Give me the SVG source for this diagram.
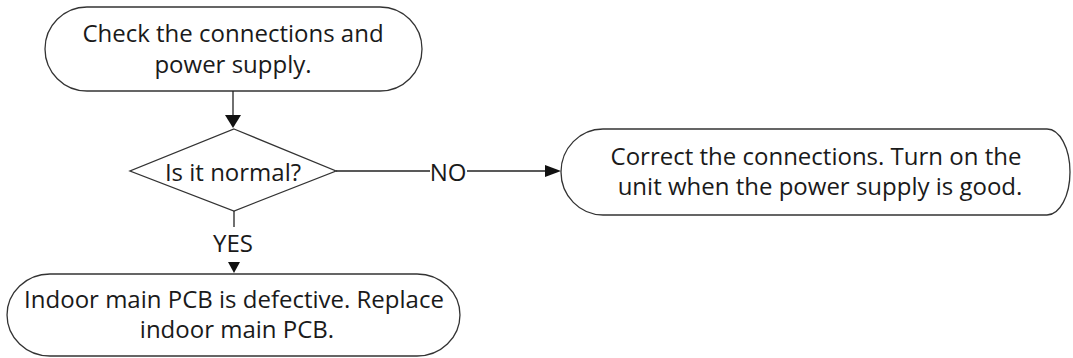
<svg xmlns="http://www.w3.org/2000/svg" width="1073" height="358" viewBox="0 0 1073 358">
<style>
.shape{fill:#fff;stroke:#333;stroke-width:1.3}
.line{fill:none;stroke:#222;stroke-width:1.3}
.head{fill:#111;stroke:none}
text{font-family:"Open Sans","Liberation Sans",sans-serif;font-size:24px;fill:#1a1a1a;text-anchor:middle}
</style>
<rect width="1073" height="358" fill="#fff"/>
<g id="node-check">
<path class="shape" d="M87,7 H380 A42,42 0 0 1 380,91 H87 A42,42 0 0 1 87,7 Z"/>
<text x="233" y="42">Check the connections and</text>
<text x="233" y="73">power supply.</text>
</g>
<g id="node-decision">
<polygon class="shape" points="234,129 336,171 234,211 130,171"/>
<text x="233" y="181">Is it normal?</text>
</g>
<g id="node-correct">
<path class="shape" d="M603,129 H1047 A23,43 0 0 1 1047,215 H603 A42,43 0 0 1 603,129 Z"/>
<text x="816" y="165">Correct the connections. Turn on the</text>
<text x="820" y="195">unit when the power supply is good.</text>
</g>
<g id="node-replace">
<path class="shape" d="M50,274 H417 A43,41 0 0 1 417,356 H50 A43,41 0 0 1 50,274 Z"/>
<text x="234" y="308">Indoor main PCB is defective. Replace</text>
<text x="237" y="338">indoor main PCB.</text>
</g>
<g id="connectors">
<line class="line" x1="233" y1="91" x2="233" y2="116"/>
<polygon class="head" points="225,115 241,115 233,128"/>
<line class="line" x1="336" y1="171" x2="430" y2="171"/>
<line class="line" x1="467" y1="171" x2="547" y2="171"/>
<polygon class="head" points="545,165 561,171 545,177"/>
<text x="448" y="181">NO</text>
<line class="line" x1="234" y1="211" x2="234" y2="227"/>
<text x="233" y="252">YES</text>
<polygon class="head" points="228,262 240,262 234,273"/>
</g>
</svg>
